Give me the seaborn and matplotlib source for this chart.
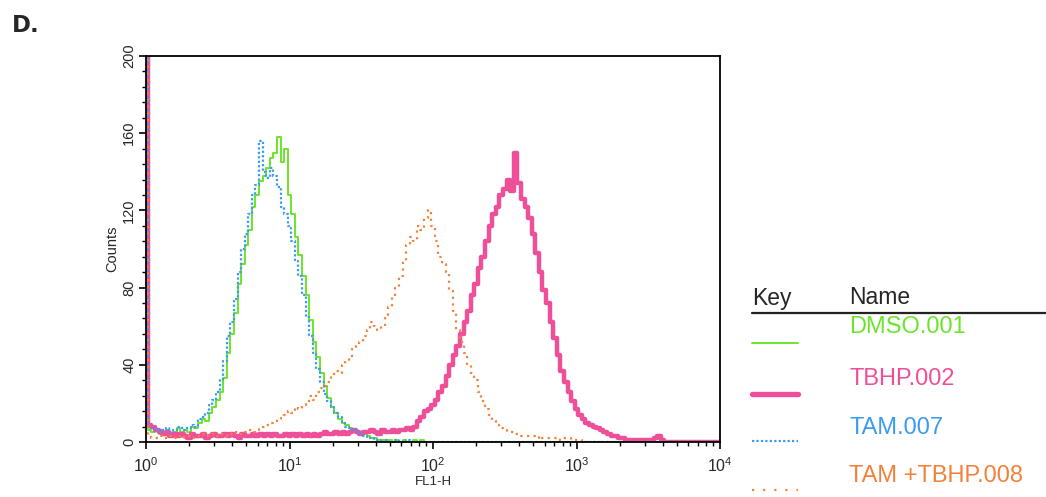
import numpy as np
import pandas as pd
import matplotlib
matplotlib.use("Agg")
import matplotlib.pyplot as plt
from matplotlib.lines import Line2D
from matplotlib.ticker import LogLocator, MultipleLocator, FixedLocator
import seaborn as sns

# ---------------- data ----------------
# FL1-H channel positions, in decades (10**x gives FL1-H)
fl1_decades = [round(i * 0.025, 3) for i in range(161)]

dmso_001 = [
    230, 6, 5, 6, 4, 5, 6, 4, 5, 7, 5, 6, 5, 8, 7, 10,
    12, 11, 15, 18, 22, 26, 33, 46, 56, 67, 82, 92, 102, 110, 122, 128,
    135, 138, 142, 147, 150, 158, 145, 152, 128, 118, 106, 97, 86, 76, 63, 52,
    44, 36, 29, 23, 18, 15, 12, 10, 9, 7, 6, 5, 5, 4, 3, 2,
    2, 1, 1, 1, 1, 0, 1, 0, 1, 0, 0, 1, 0, 1, 0, 0,
    0, 0, 0, 0, 0, 0, 0, 0, 0, 0, 0, 0, 0, 0, 0, 0,
    0, 0, 0, 0, 0, 0, 0, 0, 0, 0, 0, 0, 0, 0, 0, 0,
    0, 0, 0, 0, 0, 0, 0, 0, 0, 0, 0, 0, 0, 0, 0, 0,
    0, 0, 0, 0, 0, 0, 0, 0, 0, 0, 0, 0, 0, 0, 0, 0,
    0, 0, 0, 0, 0, 0, 0, 0, 0, 0, 0, 0, 0, 0, 0, 0,
    0,
]

tbhp_002 = [
    210, 9, 8, 6, 5, 4, 5, 3, 4, 3, 4, 3, 2, 4, 3, 3,
    4, 2, 3, 4, 3, 3, 4, 3, 4, 3, 2, 4, 3, 3, 4, 3,
    4, 3, 4, 3, 4, 3, 3, 4, 3, 4, 3, 4, 3, 4, 3, 4,
    3, 4, 5, 4, 4, 5, 4, 5, 4, 5, 6, 5, 4, 5, 5, 6,
    5, 4, 6, 5, 5, 6, 5, 6, 6, 7, 6, 8, 11, 13, 16, 17,
    19, 22, 26, 29, 34, 40, 45, 50, 56, 62, 68, 76, 82, 90, 96, 104,
    112, 118, 122, 128, 131, 136, 130, 150, 134, 126, 122, 116, 108, 98, 88, 79,
    72, 62, 54, 45, 37, 31, 26, 21, 17, 14, 12, 10, 9, 8, 7, 6,
    5, 4, 3, 3, 2, 2, 1, 1, 1, 1, 1, 1, 1, 1, 2, 3,
    1, 0, 0, 0, 0, 0, 0, 0, 0, 0, 0, 0, 0, 0, 0, 0,
    0,
]

tam_007 = [
    230, 8, 7, 6, 5, 6, 7, 5, 6, 8, 7, 6, 7, 9, 8, 12,
    13, 15, 19, 22, 26, 32, 42, 55, 62, 74, 88, 100, 108, 118, 128, 133,
    156, 140, 137, 142, 138, 132, 122, 118, 112, 104, 94, 86, 76, 65, 55, 46,
    38, 31, 25, 21, 18, 15, 13, 10, 8, 7, 6, 5, 4, 3, 2, 2,
    1, 1, 0, 1, 0, 0, 1, 0, 0, 1, 0, 0, 0, 0, 0, 0,
    0, 0, 0, 0, 0, 0, 0, 0, 0, 0, 0, 0, 0, 0, 0, 0,
    0, 0, 0, 0, 0, 0, 0, 0, 0, 0, 0, 0, 0, 0, 0, 0,
    0, 0, 0, 0, 0, 0, 0, 0, 0, 0, 0, 0, 0, 0, 0, 0,
    0, 0, 0, 0, 0, 0, 0, 0, 0, 0, 0, 0, 0, 0, 0, 0,
    0, 0, 0, 0, 0, 0, 0, 0, 0, 0, 0, 0, 0, 0, 0, 0,
    0,
]

tam_tbhp_008 = [
    230, 3, 2, 2, 3, 2, 2, 3, 2, 3, 2, 3, 3, 2, 3, 3,
    4, 3, 3, 4, 3, 4, 4, 3, 4, 5, 4, 5, 5, 6, 5, 6,
    7, 8, 9, 10, 11, 12, 13, 14, 16, 15, 18, 17, 19, 20, 24, 22,
    26, 28, 29, 31, 34, 37, 36, 40, 42, 44, 48, 50, 52, 55, 58, 62,
    60, 58, 60, 66, 70, 75, 80, 86, 94, 102, 106, 104, 112, 110, 116, 120,
    112, 104, 96, 92, 88, 78, 68, 58, 52, 46, 40, 36, 32, 26, 21, 17,
    14, 11, 9, 7, 6, 5, 5, 4, 4, 3, 3, 3, 3, 2, 3, 2,
    2, 2, 2, 1, 2, 2, 2, 1, 1, 1, 0, 0, 0, 0, 0, 0,
    0, 0, 0, 0, 0, 0, 0, 0, 0, 0, 0, 0, 0, 0, 0, 0,
    0, 0, 0, 0, 0, 0, 0, 0, 0, 0, 0, 0, 0, 0, 0, 0,
    0,
]

names = ["DMSO.001", "TBHP.002", "TAM.007", "TAM +TBHP.008"]
colors = {"DMSO.001": "#6be52b", "TBHP.002": "#ef4f98",
          "TAM.007": "#3a9bf0", "TAM +TBHP.008": "#f2823a"}
widths = {"DMSO.001": 1.4, "TBHP.002": 3.2, "TAM.007": 1.6, "TAM +TBHP.008": 1.6}
styles = {"DMSO.001": "-", "TBHP.002": "-", "TAM.007": (0, (1, 1)),
          "TAM +TBHP.008": (0, (1, 2))}
key_styles = dict(styles, **{"TAM +TBHP.008": (0, (1, 4))})
series = {"DMSO.001": dmso_001, "TBHP.002": tbhp_002,
          "TAM.007": tam_007, "TAM +TBHP.008": tam_tbhp_008}

# ---------------- plot ----------------
sns.set_style("white")
plt.rcParams["font.family"] = ["Liberation Sans", "DejaVu Sans"]
plt.rcParams["mathtext.default"] = "regular"

W, H = 1046, 497
fig = plt.figure(figsize=(W / 100, H / 100), dpi=100)
ax = fig.add_axes([146 / W, 1 - 442 / H, (720 - 146) / W, (442 - 56) / H])

fl1 = 10 ** np.array(fl1_decades)
for nm in ["DMSO.001", "TBHP.002", "TAM.007", "TAM +TBHP.008"]:
    df = pd.DataFrame({"FL1-H": fl1, "Counts": series[nm]})
    sns.lineplot(data=df, x="FL1-H", y="Counts", ax=ax, color=colors[nm],
                 linewidth=widths[nm], linestyle=styles[nm],
                 drawstyle="steps-mid", errorbar=None, estimator=None,
                 sort=False)

ax.set_xscale("log")
ax.set_xlim(1, 10000)
ax.set_ylim(0, 200)
ax.xaxis.set_major_locator(FixedLocator([1, 10, 100, 1000, 10000]))
ax.xaxis.set_minor_locator(LogLocator(base=10, subs=np.arange(2, 10), numticks=20))
ax.set_xticklabels([r"$10^{0}$", r"$10^{1}$", r"$10^{2}$", r"$10^{3}$", r"$10^{4}$"])
ax.yaxis.set_major_locator(MultipleLocator(40))
ax.yaxis.set_minor_locator(MultipleLocator(8))
ax.tick_params(axis="both", which="major", direction="out", length=5, width=1.2,
               color="black", pad=2, left=True, bottom=True)
ax.tick_params(axis="x", which="major", labelsize=11.5, pad=5)
ax.tick_params(axis="y", which="major", labelsize=10.5, labelrotation=90)
for lab in ax.get_yticklabels():
    lab.set_va("center")
ax.tick_params(axis="both", which="minor", direction="out", length=3, width=1.0,
               color="black", left=True, bottom=True)
for s in ax.spines.values():
    s.set_color("black")
    s.set_linewidth(1.3)
ax.set_xlabel("FL1-H", fontsize=9.5, labelpad=1)
ax.set_ylabel("Counts", fontsize=10.5, labelpad=2)

# panel letter
fig.text(12 / W, 1 - 25 / H, "D.", fontsize=16.5, fontweight="bold",
         family="DejaVu Sans", va="center", ha="left")

# legend table
fig.text(752 / W, 1 - 298 / H, "Key", fontsize=16.5, va="center", ha="left")
fig.text(849 / W, 1 - 298 / H, "Name", fontsize=16.5, va="center", ha="left")
fig.add_artist(Line2D([752 / W, 1.0], [1 - 313 / H, 1 - 313 / H],
                      transform=fig.transFigure, color="#222222", lw=1.6))
rows = [(327, 343), (379, 394), (428, 441), (476, 490)]
for nm, (ty, ly) in zip(names, rows):
    fig.text(849 / W, 1 - ty / H, nm, fontsize=17, color=colors[nm],
             va="center", ha="left")
    fig.add_artist(Line2D([752 / W, 798 / W], [1 - ly / H, 1 - ly / H],
                          transform=fig.transFigure, color=colors[nm],
                          lw=widths[nm] * (1.2 if nm == "TBHP.002" else 1.0),
                          linestyle=key_styles[nm]))

fig.savefig("out.png", dpi=100)
